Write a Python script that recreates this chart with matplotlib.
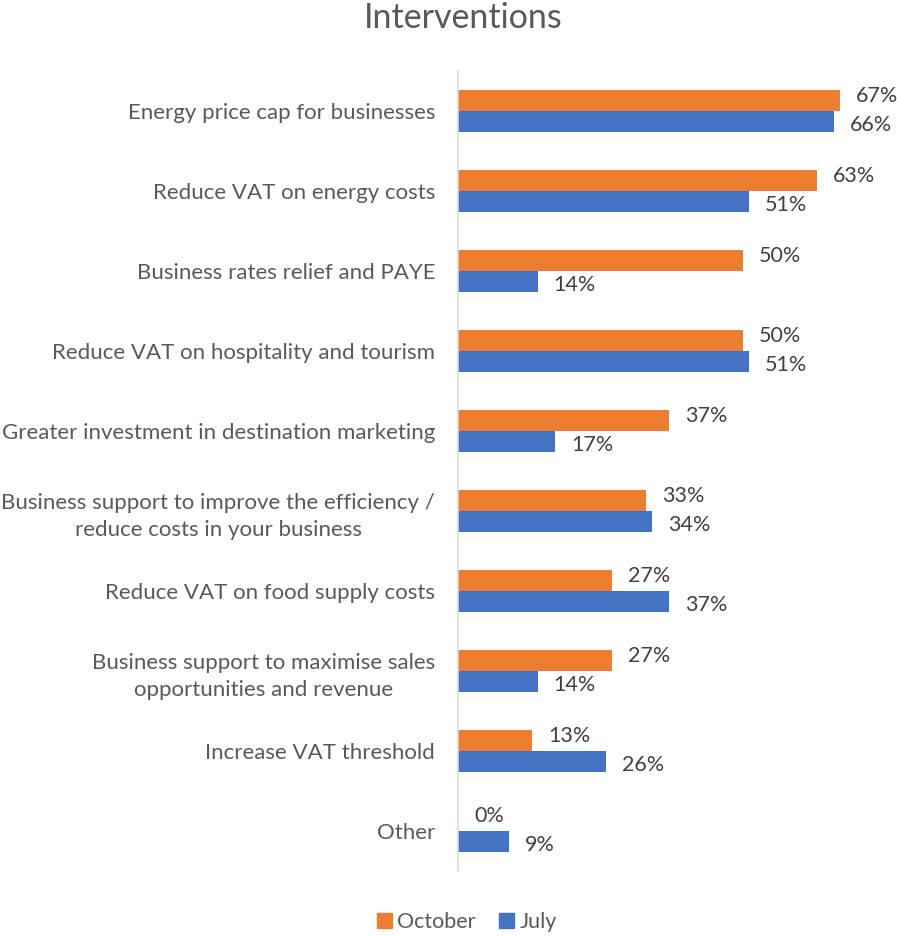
import matplotlib
matplotlib.use("Agg")
import matplotlib.pyplot as plt
from matplotlib.patches import Patch

plt.rcParams['font.family'] = ['Lato', 'DejaVu Sans']

categories = [
    "Energy price cap for businesses",
    "Reduce VAT on energy costs",
    "Business rates relief and PAYE",
    "Reduce VAT on hospitality and tourism",
    "Greater investment in destination marketing",
    "Business support to improve the efficiency /\nreduce costs in your business",
    "Reduce VAT on food supply costs",
    "Business support to maximise sales\nopportunities and revenue",
    "Increase VAT threshold",
    "Other",
]
october = [67, 63, 50, 50, 37, 33, 27, 27, 13, 0]
july = [66, 51, 14, 51, 17, 34, 37, 14, 26, 9]

ORANGE = "#ED7D31"
BLUE = "#4472C4"
TEXT = "#595959"
LABEL = "#404040"

fig = plt.figure(figsize=(8.97, 9.36), dpi=100)
ax = fig.add_axes([458 / 897, 1 - 871 / 936, 399 / 897, 800 / 936])

bh = 0.2625
ys = list(range(len(categories)))
ax.barh([y - bh / 2 for y in ys], october, height=bh, color=ORANGE)
ax.barh([y + bh / 2 for y in ys], july, height=bh, color=BLUE)

for y, v in zip(ys, october):
    ax.annotate(f"{v}%", (v, y - bh / 2 - 0.06), xytext=(11.5, 0), textcoords="offset points",
                ha="left", va="center", fontsize=15.5, color=LABEL)
for y, v in zip(ys, july):
    ax.annotate(f"{v}%", (v, y + bh / 2 + 0.04), xytext=(11.5, 0), textcoords="offset points",
                ha="left", va="center", fontsize=15.5, color=LABEL)

ax.set_xlim(0, 70)
ax.set_ylim(len(categories) - 0.5, -0.5)
ax.set_yticks(ys)
ax.set_yticklabels(categories, fontsize=16, color=TEXT, ha="right", multialignment="center",
                   linespacing=1.45)
ax.tick_params(axis="y", length=0, pad=16.5)
ax.set_xticks([])
for s in ["top", "right", "bottom"]:
    ax.spines[s].set_visible(False)
ax.spines["left"].set_color("#D9D9D9")
ax.spines["left"].set_linewidth(1.2)

fig.text(463 / 897, 1 - 18 / 936, "Interventions", ha="center", va="center", fontsize=24.5, color=TEXT)

handles = [Patch(color=ORANGE, label="October"), Patch(color=BLUE, label="July")]
fig.legend(handles=handles, loc="center", bbox_to_anchor=(467 / 897, 1 - 922 / 936), ncol=2,
           frameon=False, fontsize=15.5, labelcolor=TEXT, handlelength=0.7, handleheight=0.7,
           handletextpad=0.25, columnspacing=1.1)

fig.savefig("out.png", dpi=100)
